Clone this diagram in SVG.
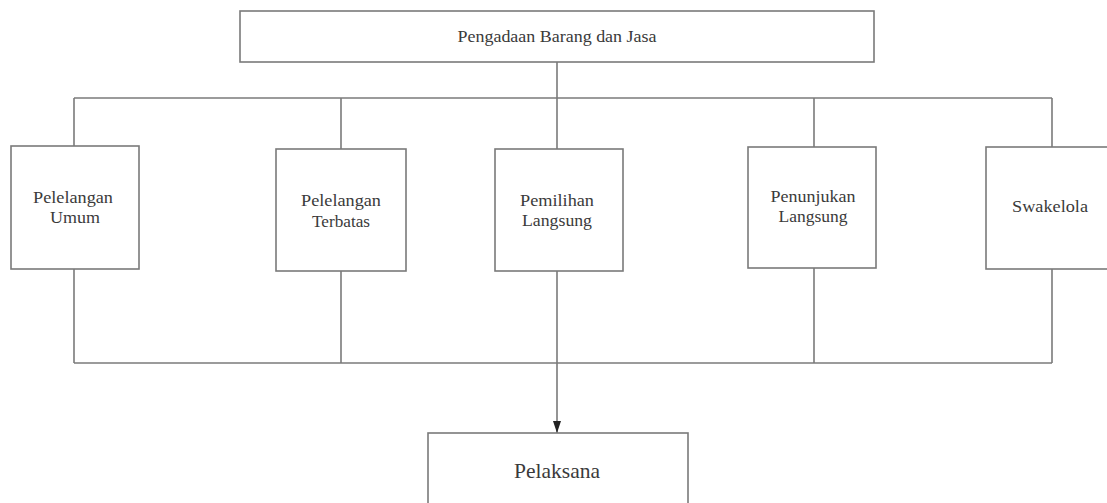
<svg xmlns="http://www.w3.org/2000/svg" width="1107" height="503" viewBox="0 0 1107 503">
<style>
.box{fill:#fff;stroke:#7a7a7a;stroke-width:1.6}
.ln{fill:none;stroke:#7a7a7a;stroke-width:1.6}
.t{font-family:"Liberation Serif","Times New Roman",serif;font-size:17px;fill:#3a3a3a;text-anchor:middle}
.tb{font-size:21px}
</style>
<defs>
<marker id="arr" viewBox="0 0 12 8" refX="12" refY="4" markerWidth="12" markerHeight="8" markerUnits="userSpaceOnUse" orient="auto">
<path d="M0,0 L12,4 L0,8 z" fill="#222"/>
</marker>
</defs>
<rect x="0" y="0" width="1107" height="503" fill="#fff"/>
<g id="connectors">
<line class="ln" x1="557" y1="62" x2="557" y2="149"/>
<line class="ln" x1="74" y1="98" x2="1052" y2="98"/>
<line class="ln" x1="74" y1="98" x2="74" y2="146"/>
<line class="ln" x1="341" y1="98" x2="341" y2="149"/>
<line class="ln" x1="814" y1="98" x2="814" y2="147"/>
<line class="ln" x1="1052" y1="98" x2="1052" y2="147"/>
<line class="ln" x1="74" y1="269" x2="74" y2="363"/>
<line class="ln" x1="341" y1="271" x2="341" y2="363"/>
<line class="ln" x1="557" y1="271" x2="557" y2="363"/>
<line class="ln" x1="814" y1="268" x2="814" y2="363"/>
<line class="ln" x1="1052" y1="269" x2="1052" y2="363"/>
<line class="ln" x1="74" y1="363" x2="1052" y2="363"/>
<line class="ln" x1="557" y1="363" x2="557" y2="433" marker-end="url(#arr)"/>
</g>
<g id="node-pengadaan">
<rect class="box" x="240" y="11" width="634" height="51"/>
<text class="t" x="557" y="42" textLength="199" lengthAdjust="spacingAndGlyphs">Pengadaan Barang dan Jasa</text>
</g>
<g id="node-pelelangan-umum">
<rect class="box" x="11" y="146" width="128" height="123"/>
<text class="t" x="73" y="203" textLength="80" lengthAdjust="spacingAndGlyphs">Pelelangan</text>
<text class="t" x="75" y="223" textLength="50" lengthAdjust="spacingAndGlyphs">Umum</text>
</g>
<g id="node-pelelangan-terbatas">
<rect class="box" x="276" y="149" width="130" height="122"/>
<text class="t" x="341" y="206" textLength="80" lengthAdjust="spacingAndGlyphs">Pelelangan</text>
<text class="t" x="341" y="227" textLength="58" lengthAdjust="spacingAndGlyphs">Terbatas</text>
</g>
<g id="node-pemilihan-langsung">
<rect class="box" x="495" y="149" width="128" height="122"/>
<text class="t" x="557" y="206" textLength="74" lengthAdjust="spacingAndGlyphs">Pemilihan</text>
<text class="t" x="557" y="226" textLength="70" lengthAdjust="spacingAndGlyphs">Langsung</text>
</g>
<g id="node-penunjukan-langsung">
<rect class="box" x="748" y="147" width="128" height="121"/>
<text class="t" x="813" y="202" textLength="85" lengthAdjust="spacingAndGlyphs">Penunjukan</text>
<text class="t" x="813" y="222" textLength="69" lengthAdjust="spacingAndGlyphs">Langsung</text>
</g>
<g id="node-swakelola">
<rect class="box" x="986" y="147" width="128" height="122"/>
<text class="t" x="1050" y="212" textLength="76" lengthAdjust="spacingAndGlyphs">Swakelola</text>
</g>
<g id="node-pelaksana">
<rect class="box" x="428" y="433" width="260" height="90"/>
<text class="t tb" x="557" y="478" textLength="86" lengthAdjust="spacingAndGlyphs">Pelaksana</text>
</g>
</svg>
